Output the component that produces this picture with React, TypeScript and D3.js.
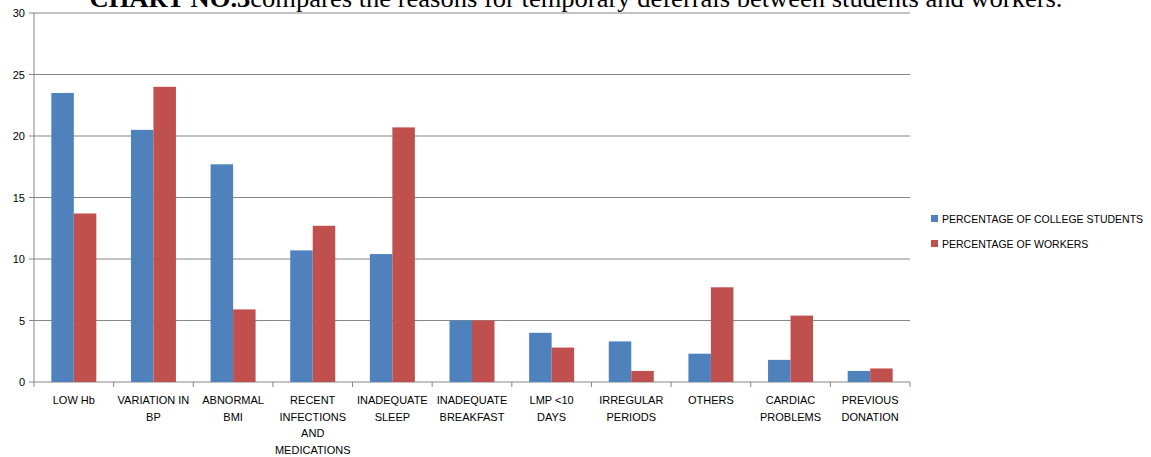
import React from 'react';
import * as d3 from 'd3';

const categories = [
  ['LOW Hb'],
  ['VARIATION IN', 'BP'],
  ['ABNORMAL', 'BMI'],
  ['RECENT', 'INFECTIONS', 'AND', 'MEDICATIONS'],
  ['INADEQUATE', 'SLEEP'],
  ['INADEQUATE', 'BREAKFAST'],
  ['LMP <10', 'DAYS'],
  ['IRREGULAR', 'PERIODS'],
  ['OTHERS'],
  ['CARDIAC', 'PROBLEMS'],
  ['PREVIOUS', 'DONATION'],
];
const seriesNames = ['PERCENTAGE OF COLLEGE STUDENTS', 'PERCENTAGE OF WORKERS'];
const students = [23.5, 20.5, 17.7, 10.7, 10.4, 5.0, 4.0, 3.3, 2.3, 1.8, 0.9];
const workers = [13.7, 24.0, 5.9, 12.7, 20.7, 5.0, 2.8, 0.9, 7.7, 5.4, 1.1];
const yTicks = [0, 5, 10, 15, 20, 25, 30];
const titleHead = 'CHART NO.3';
const titleRest = 'compares the reasons for temporary deferrals between students and workers.';

const colors = ['#4F81BD', '#C0504D'];
const font = '"Liberation Sans", Arial, sans-serif';

export default function App() {
  const width = 1151;
  const height = 457;
  const left = 34;
  const right = 910;
  const top = 13;
  const bottom = 382;

  const keys = categories.map((c) => c.join(' '));
  const x = d3.scaleBand().domain(keys).range([left, right]).paddingInner(0).paddingOuter(0);
  const inner = d3.scaleBand().domain(['0', '1']).range([0, x.bandwidth()]).paddingInner(0).paddingOuter(0.77);
  const y = d3.scaleLinear().domain([0, 30]).range([bottom, top]);
  const series = [students, workers];

  return (
    <svg width={width} height={height} style={{ position: 'absolute', left: 0, top: 0, background: '#fff' }}>
      {/* title, cut off at top like in the source page */}
      <text x={576} y={7} textAnchor="middle" fontFamily='"Liberation Serif", "Times New Roman", serif'
        fontSize={25} textLength={973} lengthAdjust="spacingAndGlyphs" fill="#000">
        <tspan fontWeight="bold">{titleHead}</tspan>
        <tspan>{titleRest}</tspan>
      </text>

      {/* gridlines and y ticks */}
      {yTicks.map((t) => (
        <g key={t}>
          <line x1={left} x2={right} y1={y(t)} y2={y(t)} stroke="#868686" strokeWidth={1} />
          <line x1={left - 5} x2={left} y1={y(t)} y2={y(t)} stroke="#868686" />
          <text x={25} y={y(t) + 4} textAnchor="end" fontFamily={font} fontSize={11} fill="#000">{t}</text>
        </g>
      ))}
      <line x1={left} x2={left} y1={top} y2={bottom} stroke="#868686" />

      {/* bars */}
      {series.map((vals, si) =>
        vals.map((v, i) => (
          <rect key={`${si}-${i}`} x={(x(keys[i]) as number) + (inner(String(si)) as number)} y={y(v)}
            width={inner.bandwidth()} height={bottom - y(v)} fill={colors[si]} />
        ))
      )}

      {/* x axis ticks */}
      {keys.map((k) => (
        <line key={k} x1={x(k)} x2={x(k)} y1={bottom} y2={bottom + 5} stroke="#868686" />
      ))}
      <line x1={right} x2={right} y1={bottom} y2={bottom + 5} stroke="#868686" />

      {/* x labels */}
      {categories.map((lines, i) => (
        <text key={i} textAnchor="middle" fontFamily={font} fontSize={11} fill="#000">
          {lines.map((l, j) => (
            <tspan key={j} x={(x(keys[i]) as number) + x.bandwidth() / 2} y={404 + j * 16.5}>{l}</tspan>
          ))}
        </text>
      ))}

      {/* legend */}
      {seriesNames.map((n, i) => (
        <g key={n} transform={`translate(931,${215 + i * 25})`}>
          <rect x={0} y={0} width={7} height={7} fill={colors[i]} />
          <text x={11} y={7.5} fontFamily={font} fontSize={10.5} fill="#000">{n}</text>
        </g>
      ))}
    </svg>
  );
}
